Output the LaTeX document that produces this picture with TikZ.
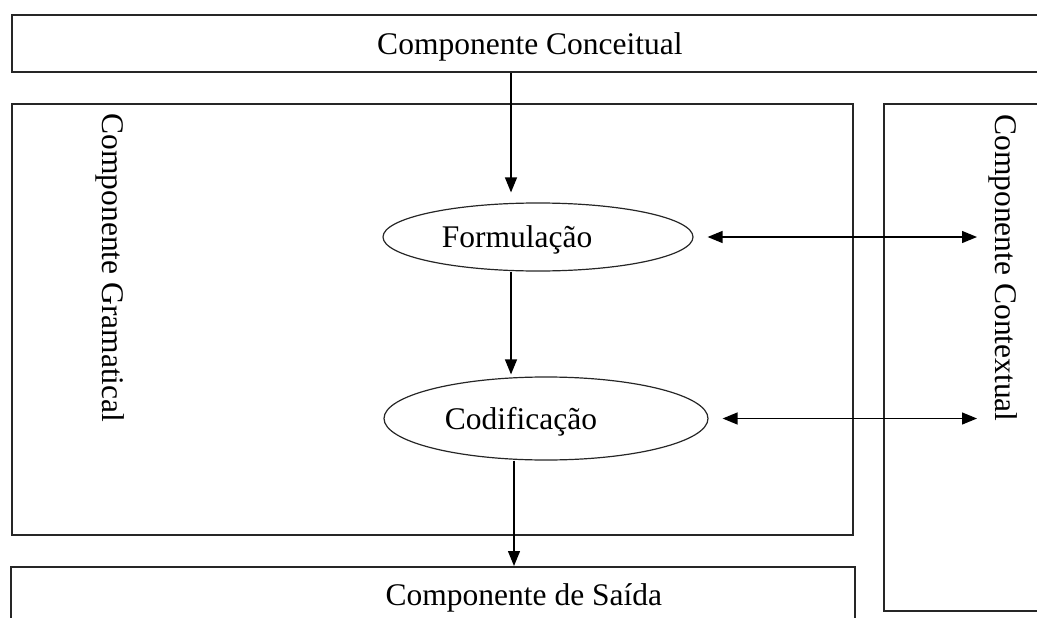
\documentclass[tikz,border=0pt]{standalone}
\usepackage{fontspec}
\setmainfont{Liberation Serif}
\usetikzlibrary{arrows.meta,shapes.geometric}
\begin{document}
\begin{tikzpicture}[x=1pt,y=-1pt,
  box/.style={draw=black!85, line width=1.8pt, rectangle, inner sep=0pt, anchor=north west},
  ell/.style={draw=black!85, line width=1.2pt, ellipse, inner sep=0pt, text depth=0pt},
  lbl/.style={font=\fontsize{31.5}{36}\selectfont},
  tip/.style={},
  arr/.style={line width=1.3pt, -{Triangle[length=15pt,width=12pt]}},
  darr/.style={line width=1.3pt, {Triangle[length=15pt,width=12pt]}-{Triangle[length=15pt,width=12pt]}}]
\useasboundingbox (0,0) rectangle (1037,618);
% boxes
\node[box, lbl, text depth=0pt, minimum width=1036pt, minimum height=57pt] (conc) at (11,14) {Componente Conceitual};
\node[box, minimum width=841pt, minimum height=431pt] (gram) at (11,103) {};
\node[box, minimum width=220pt, minimum height=507pt] (ctxbox) at (883,103) {};
\node[box, lbl, text depth=0pt, minimum width=844pt, minimum height=56pt] (saida) at (10,566) {\hspace*{182pt}Componente de Saída};
% vertical labels
\node[lbl, rotate=-90, anchor=base] (gramlbl) at (102,268) {Componente Gramatical};
\node[lbl, rotate=-90, anchor=base] (ctxlbl) at (995,268) {Componente Contextual};
% ellipses
\node[ell, lbl, minimum width=310pt, minimum height=68pt] (form) at (538,237) {Formulação\hspace*{42pt}};
\node[ell, lbl, minimum width=324pt, minimum height=83pt] (cod) at (546,418.5) {Codificação\hspace*{50pt}};
% helper coordinates
\coordinate (ax1) at (511,0);
\coordinate (ax2) at (514,0);
\coordinate (ctx) at (977,0);
% connectors
\draw[arr, shorten >=10pt] (conc.south -| ax1) -- (form.north -| ax1);
\draw[arr, shorten >=2pt] (form.south -| ax1) -- (cod.north -| ax1);
\draw[arr] (cod.south -| ax2) -- (saida.north -| ax2);
\draw[darr, shorten <=14pt] (form.east) -- (form.east -| ctx);
\draw[darr, shorten <=14pt] (cod.east) -- (cod.east -| ctx);
\end{tikzpicture}
\end{document}
